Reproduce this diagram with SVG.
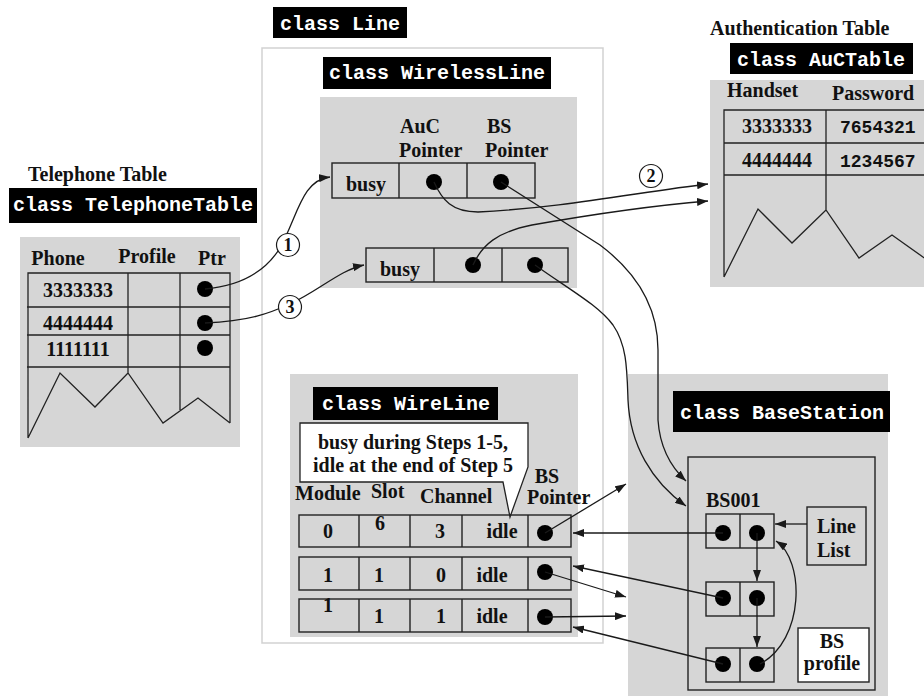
<svg xmlns="http://www.w3.org/2000/svg" width="924" height="696" viewBox="0 0 924 696">
  <style>
    .panel { fill: #d6d6d6; stroke: none; }
    .cell { fill: none; stroke: #222; stroke-width: 1.4; }
    .grid { fill: none; stroke: #222; stroke-width: 1.3; }
    .tag { fill: #000; }
    .tagtext { font-family: "Liberation Mono", "DejaVu Sans Mono", monospace; font-weight: bold; font-size: 20px; fill: #fff; text-anchor: middle; }
    .t { font-family: "Liberation Serif", "DejaVu Serif", serif; font-weight: bold; font-size: 20px; fill: #111; }
    .c { text-anchor: middle; }
    .mono { font-family: "Liberation Mono", "DejaVu Sans Mono", monospace; font-weight: bold; font-size: 18px; fill: #111; }
    .dot { fill: #000; }
    .conn { fill: none; stroke: #1a1a1a; stroke-width: 1.3; }
    .num { fill: #fff; stroke: #1a1a1a; stroke-width: 1.2; }
    .numtext { font-family: "Liberation Serif", "DejaVu Serif", serif; font-weight: bold; font-size: 18px; fill: #111; text-anchor: middle; }
  </style>
  <defs>
    <marker id="arrow" markerUnits="userSpaceOnUse" markerWidth="12" markerHeight="8" refX="11" refY="4" orient="auto">
      <path d="M0,0 L11,4 L0,8 Z" fill="#1a1a1a"/>
    </marker>
  </defs>

  <rect width="924" height="696" fill="#fff"/>

  <!-- Telephone table -->
  <g id="telephone-table">
    <text class="t" x="28" y="181">Telephone Table</text>
    <rect class="tag" x="9" y="188" width="248" height="35"/>
    <text class="tagtext" x="133" y="211">class TelephoneTable</text>
    <rect class="panel" x="20" y="237" width="220" height="210"/>
    <text class="t c" x="58" y="265">Phone</text>
    <text class="t c" x="147" y="263">Profile</text>
    <text class="t c" x="212" y="265">Ptr</text>
    <path class="grid" d="M28,438 V273 H230 V423 M27,307 H230 M27,335 H230 M27,367 H230 M128,273 V373 M180,273 V410 M28,438 L60,373 L95,407 L128,373 L163,423 L198,398 L230,423"/>
    <text class="t c" x="78" y="297">3333333</text>
    <text class="t c" x="78" y="330">4444444</text>
    <text class="t c" x="78" y="356">1111111</text>
    <circle class="dot" cx="205" cy="289" r="8"/>
    <circle class="dot" cx="205" cy="323" r="8"/>
    <circle class="dot" cx="205" cy="348" r="8"/>
  </g>

  <!-- Line base class outline -->
  <g id="line-class">
    <rect class="tag" x="273" y="7" width="134" height="31"/>
    <text class="tagtext" x="340" y="30">class Line</text>
    <rect x="262" y="48" width="341" height="595" fill="none" stroke="#d2d2d2" stroke-width="1.5"/>
  </g>

  <!-- Wireless line -->
  <g id="wireless-line">
    <rect class="tag" x="323" y="57" width="228" height="32"/>
    <text class="tagtext" x="437" y="79">class WirelessLine</text>
    <rect class="panel" x="320" y="97" width="257" height="191"/>
    <text class="t" x="400" y="133">AuC</text>
    <text class="t" x="399" y="157">Pointer</text>
    <text class="t" x="487" y="133">BS</text>
    <text class="t" x="485" y="157">Pointer</text>
    <rect class="cell" x="332" y="163" width="203" height="35"/>
    <path class="cell" d="M399,163 V198 M467,163 V198"/>
    <text class="t c" x="366" y="191">busy</text>
    <circle class="dot" cx="434" cy="182" r="8"/>
    <circle class="dot" cx="501" cy="182" r="8"/>
    <rect class="cell" x="366" y="248" width="202" height="34"/>
    <path class="cell" d="M434,248 V282 M502,248 V282"/>
    <text class="t c" x="400" y="276">busy</text>
    <circle class="dot" cx="473" cy="265" r="8"/>
    <circle class="dot" cx="535" cy="265" r="8"/>
  </g>

  <!-- Authentication table -->
  <g id="auc-table">
    <text class="t" x="710" y="35">Authentication Table</text>
    <rect class="tag" x="730" y="43" width="183" height="31"/>
    <text class="tagtext" x="821" y="66">class AuCTable</text>
    <rect class="panel" x="710" y="80" width="220" height="207"/>
    <text class="t" x="727" y="97">Handset</text>
    <text class="t" x="832" y="100">Password</text>
    <path class="grid" d="M724,277 V110 H930 M724,143 H930 M724,175 H930 M826,110 V210 M724,277 L758,209 L792,243 L826,210 L859,258 L892,235 L930,262"/>
    <text class="t c" x="777" y="133">3333333</text>
    <text class="mono" x="840" y="133">7654321</text>
    <text class="t c" x="777" y="167">4444444</text>
    <text class="mono" x="840" y="167">1234567</text>
  </g>

  <!-- Wire line -->
  <g id="wire-line">
    <rect class="panel" x="290" y="374" width="288" height="263"/>
    <rect class="tag" x="313" y="387" width="185" height="33"/>
    <text class="tagtext" x="406" y="410">class WireLine</text>
    <path d="M300,423 H528 V467 L510,517 L503,482 H300 Z" fill="#fff" stroke="#222" stroke-width="1.3"/>
    <text class="t c" x="413" y="449">busy during Steps 1-5,</text>
    <text class="t c" x="413" y="472">idle at the end of Step 5</text>
    <text class="t" x="295" y="500">Module</text>
    <text class="t" x="371" y="498">Slot</text>
    <text class="t" x="420" y="503">Channel</text>
    <text class="t c" x="547" y="483">BS</text>
    <text class="t" x="527" y="504">Pointer</text>
    <rect class="cell" x="299" y="515" width="272" height="32"/>
    <path class="cell" d="M359,515 V547 M410,515 V547 M462,515 V547 M528,515 V547"/>
    <text class="t c" x="328" y="538">0</text>
    <text class="t c" x="380" y="530">6</text>
    <text class="t c" x="440" y="538">3</text>
    <text class="t c" x="502" y="538">idle</text>
    <circle class="dot" cx="545" cy="533" r="8"/>
    <rect class="cell" x="299" y="557" width="272" height="33"/>
    <path class="cell" d="M359,557 V590 M410,557 V590 M462,557 V590 M528,557 V590"/>
    <text class="t c" x="328" y="582">1</text>
    <text class="t c" x="379" y="582">1</text>
    <text class="t c" x="441" y="582">0</text>
    <text class="t c" x="492" y="582">idle</text>
    <circle class="dot" cx="545" cy="572" r="8"/>
    <rect class="cell" x="299" y="599" width="272" height="33"/>
    <path class="cell" d="M359,599 V632 M410,599 V632 M462,599 V632 M528,599 V632"/>
    <text class="t c" x="328" y="612">1</text>
    <text class="t c" x="379" y="623">1</text>
    <text class="t c" x="441" y="623">1</text>
    <text class="t c" x="492" y="623">idle</text>
    <circle class="dot" cx="545" cy="617" r="8"/>
  </g>

  <!-- Base station -->
  <g id="base-station">
    <rect class="panel" x="628" y="374" width="260" height="322"/>
    <rect class="tag" x="673" y="391" width="217" height="41"/>
    <text class="tagtext" x="782" y="419">class BaseStation</text>
    <rect class="cell" x="688" y="457" width="187" height="233"/>
    <text class="t" x="706" y="507">BS001</text>
    <rect class="cell" x="706" y="514" width="68" height="34"/>
    <path class="cell" d="M740,514 V548"/>
    <circle class="dot" cx="723" cy="533" r="8"/>
    <circle class="dot" cx="757" cy="533" r="8"/>
    <rect class="cell" x="706" y="582" width="68" height="34"/>
    <path class="cell" d="M740,582 V616"/>
    <circle class="dot" cx="723" cy="598" r="8"/>
    <circle class="dot" cx="757" cy="598" r="8"/>
    <rect class="cell" x="706" y="648" width="68" height="34"/>
    <path class="cell" d="M740,648 V682"/>
    <circle class="dot" cx="723" cy="664" r="8"/>
    <circle class="dot" cx="757" cy="664" r="8"/>
    <rect class="cell" x="807" y="507" width="59" height="58"/>
    <text class="t" x="817" y="533">Line</text>
    <text class="t" x="817" y="557">List</text>
    <rect x="798" y="628" width="71" height="54" fill="#fff" stroke="#222" stroke-width="1.4"/>
    <text class="t c" x="832" y="648">BS</text>
    <text class="t c" x="832" y="670">profile</text>
  </g>

  <!-- Connectors -->
  <g id="connectors">
    <path class="conn" marker-end="url(#arrow)" d="M205,289 C240,286 265,272 280,248 C298,215 302,180 330,177"/>
    <path class="conn" marker-end="url(#arrow)" d="M205,323 C250,321 270,313 290,304 C320,290 340,270 364,265"/>
    <path class="conn" marker-end="url(#arrow)" d="M434,182 C442,200 452,212 478,212 C560,208 640,192 708,184"/>
    <path class="conn" marker-end="url(#arrow)" d="M473,265 C482,245 497,232 532,225 C600,213 660,205 708,201"/>
    <path class="conn" marker-end="url(#arrow)" d="M501,182 L600,245 C640,275 658,310 658,350 L658,420 C660,450 672,468 686,481"/>
    <path class="conn" marker-end="url(#arrow)" d="M535,265 C570,290 598,305 613,325 C627,345 627,370 628,400 C630,445 652,482 686,506"/>
    <path class="conn" marker-end="url(#arrow)" d="M545,533 L626,484"/>
    <path class="conn" marker-end="url(#arrow)" d="M723,533 L573,533"/>
    <path class="conn" marker-end="url(#arrow)" d="M723,598 L573,566"/>
    <path class="conn" marker-end="url(#arrow)" d="M545,572 L626,597"/>
    <path class="conn" marker-end="url(#arrow)" d="M545,617 L626,616"/>
    <path class="conn" marker-end="url(#arrow)" d="M723,664 L573,627"/>
    <path class="conn" marker-end="url(#arrow)" d="M757,533 L757,581"/>
    <path class="conn" marker-end="url(#arrow)" d="M757,598 L757,647"/>
    <path class="conn" marker-end="url(#arrow)" d="M760,664 C805,640 805,560 776,541"/>
    <path class="conn" marker-end="url(#arrow)" d="M807,524 L775,524"/>
    <circle class="num" cx="288" cy="245" r="11.5"/>
    <text class="numtext" x="288" y="251">1</text>
    <circle class="num" cx="651" cy="176" r="11.5"/>
    <text class="numtext" x="651" y="182">2</text>
    <circle class="num" cx="290" cy="307" r="11.5"/>
    <text class="numtext" x="290" y="313">3</text>
  </g>
</svg>
